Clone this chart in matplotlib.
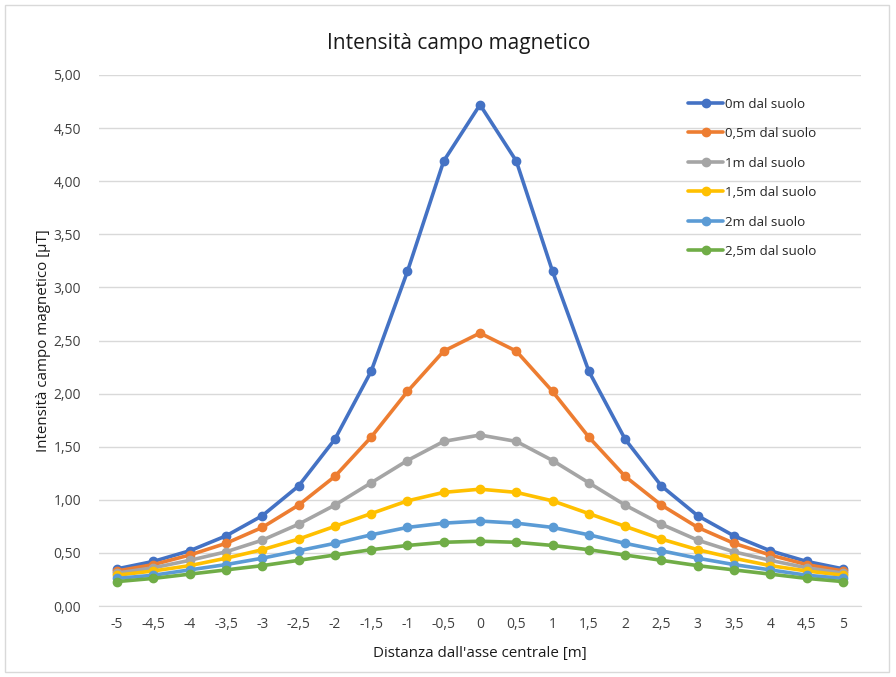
import matplotlib.pyplot as plt
from matplotlib.patches import Rectangle
from matplotlib.ticker import FuncFormatter

plt.rcParams['font.family'] = ['Open Sans', 'DejaVu Sans']

# distanza dall'asse centrale [m]
distanza = [-5, -4.5, -4, -3.5, -3, -2.5, -2, -1.5, -1, -0.5, 0,
            0.5, 1, 1.5, 2, 2.5, 3, 3.5, 4, 4.5, 5]
tick_labels = ["-5", "-4,5", "-4", "-3,5", "-3", "-2,5", "-2", "-1,5", "-1", "-0,5", "0",
               "0,5", "1", "1,5", "2", "2,5", "3", "3,5", "4", "4,5", "5"]

h0_0 = [0.35, 0.42, 0.52, 0.66, 0.85, 1.13, 1.57, 2.21, 3.15, 4.19, 4.72,
        4.19, 3.15, 2.21, 1.57, 1.13, 0.85, 0.66, 0.52, 0.42, 0.35]
h0_5 = [0.33, 0.39, 0.48, 0.59, 0.74, 0.95, 1.22, 1.59, 2.02, 2.40, 2.57,
        2.40, 2.02, 1.59, 1.22, 0.95, 0.74, 0.59, 0.48, 0.39, 0.33]
h1_0 = [0.31, 0.36, 0.43, 0.51, 0.62, 0.77, 0.95, 1.16, 1.37, 1.55, 1.61,
        1.55, 1.37, 1.16, 0.95, 0.77, 0.62, 0.51, 0.43, 0.36, 0.31]
h1_5 = [0.29, 0.33, 0.38, 0.45, 0.53, 0.63, 0.75, 0.87, 0.99, 1.07, 1.10,
        1.07, 0.99, 0.87, 0.75, 0.63, 0.53, 0.45, 0.38, 0.33, 0.29]
h2_0 = [0.26, 0.29, 0.34, 0.39, 0.45, 0.52, 0.59, 0.67, 0.74, 0.78, 0.80,
        0.78, 0.74, 0.67, 0.59, 0.52, 0.45, 0.39, 0.34, 0.29, 0.26]
h2_5 = [0.23, 0.26, 0.30, 0.34, 0.38, 0.43, 0.48, 0.53, 0.57, 0.60, 0.61,
        0.60, 0.57, 0.53, 0.48, 0.43, 0.38, 0.34, 0.30, 0.26, 0.23]

series = [h0_0, h0_5, h1_0, h1_5, h2_0, h2_5]
labels = ["0m dal suolo", "0,5m dal suolo", "1m dal suolo",
          "1,5m dal suolo", "2m dal suolo", "2,5m dal suolo"]
colors = ['#4472C4', '#ED7D31', '#A5A5A5', '#FFC000', '#5B9BD5', '#70AD47']

fig = plt.figure(figsize=(8.96, 6.77), dpi=100)
ax = fig.add_axes([99 / 896, 71 / 677, 762 / 896, 531 / 677])

# cornice grigia del grafico
fig.patches.append(Rectangle((5 / 896, 5 / 677), 884 / 896, 667 / 677,
                             transform=fig.transFigure, fill=False,
                             edgecolor='#d9d9d9', linewidth=1))

x = list(range(len(distanza)))
for vals, lab, c in zip(series, labels, colors):
    ax.plot(x, vals, color=c, linewidth=2.6, marker='o', markersize=6,
            label=lab, solid_capstyle='round', solid_joinstyle='round')

ax.set_xlim(-0.5, len(distanza) - 0.5)
ax.set_ylim(0, 5)
ax.set_yticks([i * 0.5 for i in range(11)])
ax.yaxis.set_major_formatter(FuncFormatter(lambda v, p: ("%.2f" % v).replace('.', ',')))
ax.set_xticks(x)
ax.set_xticklabels(tick_labels)
ax.tick_params(axis='both', length=0, labelsize=10, colors='#404040')
ax.tick_params(axis='x', pad=8)
ax.tick_params(axis='y', pad=13)

ax.grid(axis='y', color='#d9d9d9', linewidth=1)
ax.set_axisbelow(True)
for s in ['top', 'right', 'left']:
    ax.spines[s].set_visible(False)
ax.spines['bottom'].set_color('#d9d9d9')

ax.set_title("Intensità campo magnetico", fontsize=15, color='#1a1a1a', pad=19,
             x=(459 - 99) / 762)
ax.set_xlabel("Distanza dall'asse centrale [m]", fontsize=10.9, color='#1a1a1a', labelpad=10)
ax.set_ylabel("Intensità campo magnetico [µT]", fontsize=10.9, color='#1a1a1a', labelpad=2)

leg = ax.legend(loc='upper left', bbox_to_anchor=(688 / 896, 1 - 97.5 / 677),
                bbox_transform=fig.transFigure, frameon=False, fontsize=9.6,
                handlelength=2.63, handletextpad=0.15, labelspacing=1.24,
                borderaxespad=0, borderpad=0)
for t in leg.get_texts():
    t.set_color('#262626')

fig.savefig("out.png", dpi=100)
